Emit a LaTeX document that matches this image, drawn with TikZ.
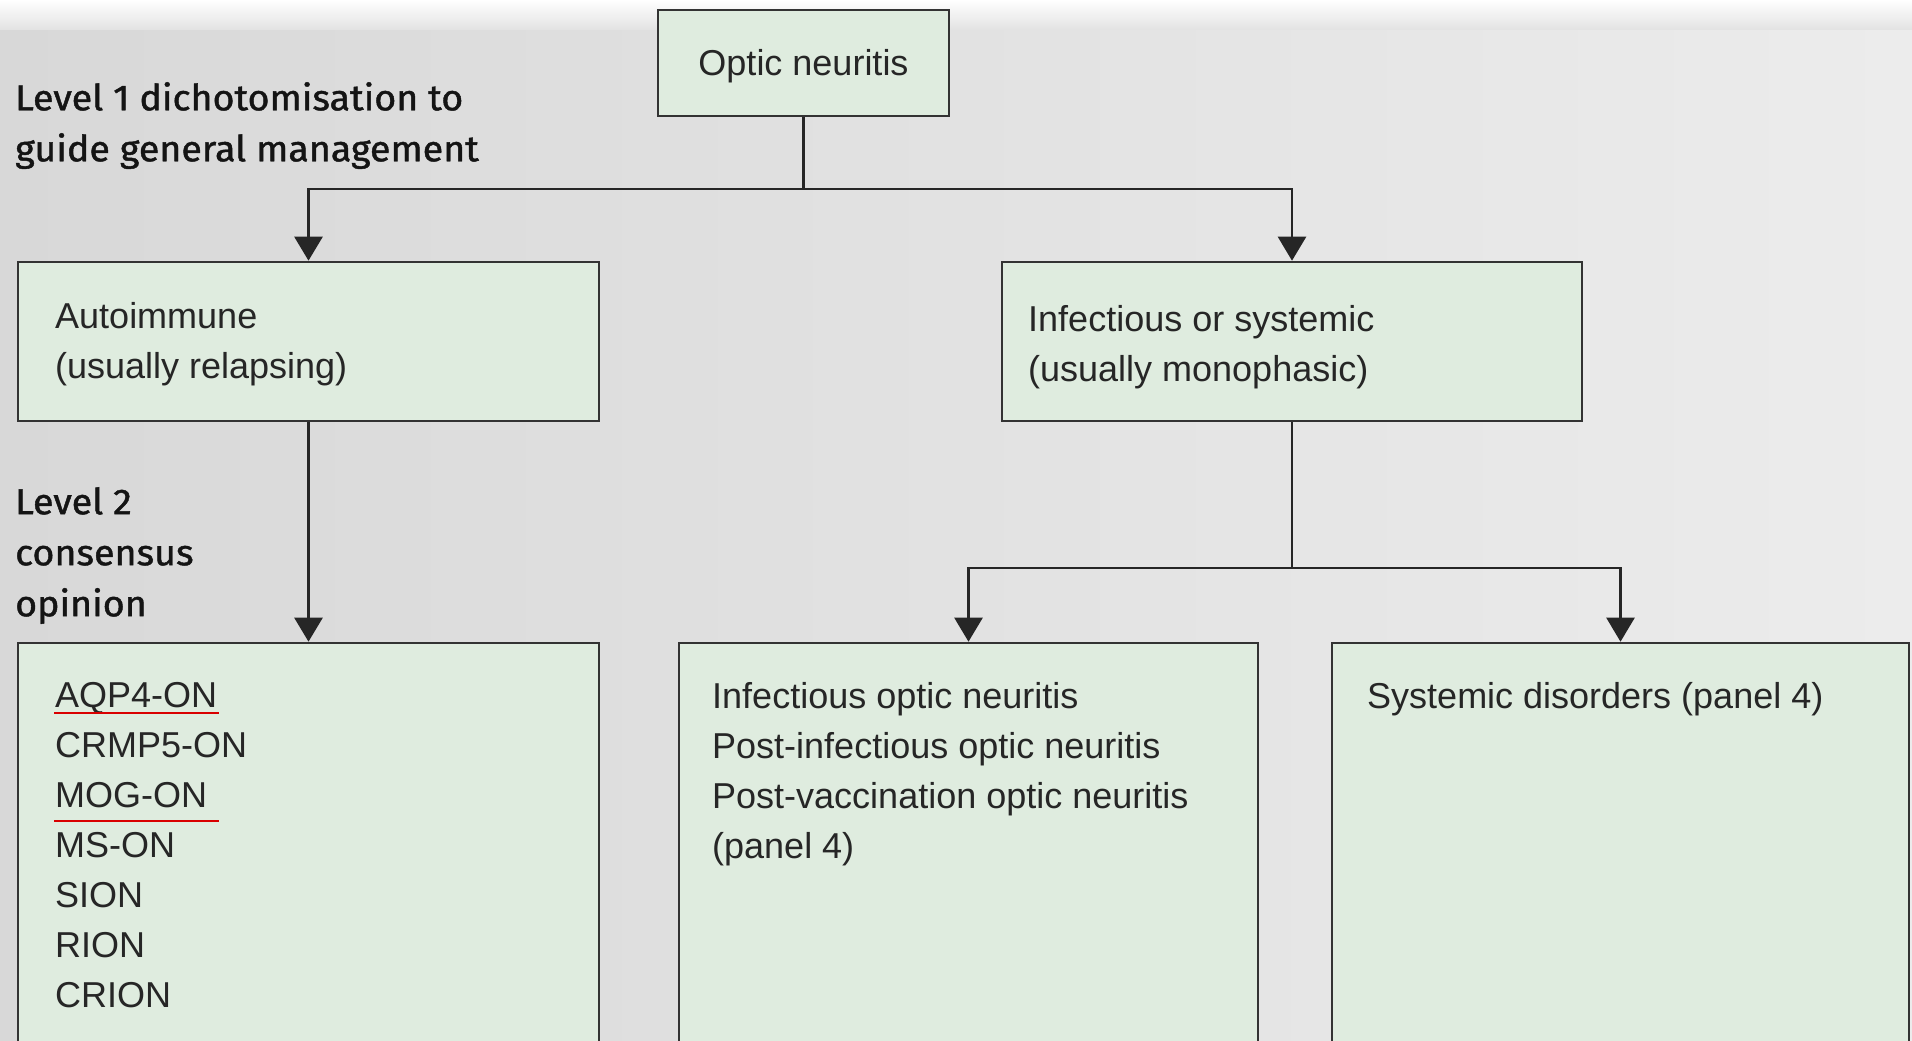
\documentclass[tikz,border=0pt]{standalone}
\usepackage{fontspec}
\setmainfont{Liberation Sans}
\newfontfamily\levelfont[FakeBold=1.2, FakeStretch=1.045]{Fira Sans}
\usetikzlibrary{arrows.meta}

\definecolor{boxgreen}{HTML}{DFECDF}
\definecolor{boxline}{HTML}{333333}
\definecolor{bgleft}{HTML}{D8D8D8}
\definecolor{bgright}{HTML}{ECECEC}

\begin{document}
\begin{tikzpicture}[x=1pt,y=-1pt]
		\tikzset{box/.style = {draw=boxline, fill=boxgreen, line width=2.6pt, inner sep=0pt}}
		\tikzset{txt/.style = {inner sep=0pt, align=left, text=black!85, font=\fontsize{36}{50}\selectfont}}
		\tikzset{lvl/.style = {inner sep=0pt, align=left, text=black!92, font=\levelfont\fontsize{36}{51}\selectfont}}
		\tikzset{link/.style = {draw=black!85, line width=2.6pt}}
		\tikzset{edge/.style = {link, -{Triangle[length=24pt,width=28pt]}}}
		
		% background
		\useasboundingbox (0,0) rectangle (1912,1041);
		\clip (0,0) rectangle (1912,1041);
		\shade[left color=bgleft, right color=bgright] (0,0) rectangle (1912,1041);
		\shade[top color=white, bottom color=bgleft!50!bgright] (0,0) rectangle (1912,30);
		
		% boxes
		\node[box, minimum width=291pt, minimum height=106pt, txt, text height=26pt, text depth=0pt] (on) at (803.5, 63) {Optic neuritis};
		\node[box, minimum width=581pt, minimum height=159pt] (auto) at (308.5, 341.5) {};
		\node[box, minimum width=580pt, minimum height=159pt] (inf) at (1292, 341.5) {};
		\node[box, minimum width=581pt, minimum height=417pt] (autolist) at (308.5, 851.5) {};
		\node[box, minimum width=579pt, minimum height=417pt] (infon) at (968.5, 851.5) {};
		\node[box, minimum width=577pt, minimum height=417pt] (sysd) at (1620.5, 851.5) {};
		
		% texts
		\node[lvl, anchor=north west] (lvl1) at (15, 82) {Level 1 dichotomisation to\\guide general management};
		\node[lvl, anchor=north west] (lvl2) at (15, 487) {Level 2\\consensus\\opinion};
		\node[txt, anchor=north west] (autoT) at (55, 302) {Autoimmune\\(usually relapsing)};
		\node[txt, anchor=north west] (infT) at (1028, 305) {Infectious or systemic\\(usually monophasic)};
		\node[txt, anchor=north west] (aqpT) at (55, 682) {AQP4-ON\\CRMP5-ON\\MOG-ON\\MS-ON\\SION\\RION\\CRION};
		\node[txt, anchor=north west] (infonT) at (712, 682) {Infectious optic neuritis\\Post-infectious optic neuritis\\Post-vaccination optic neuritis\\(panel 4)};
		\node[txt, anchor=north west] (sysT) at (1367, 682) {Systemic disorders (panel 4)};
		
		\coordinate (split1) at (0, 189);
		\coordinate (split2) at (0, 568);
		
		\draw[link] (on.south) -- (on.south |- split1);
		\draw[edge] (on.south |- split1) -| (auto.north);
		\draw[edge] (on.south |- split1) -| (inf.north);
		\draw[edge] (auto.south) -- (autolist.north);
		\draw[link] (inf.south) -- (inf.south |- split2);
		\draw[edge] (inf.south |- split2) -| (infon.north);
		\draw[edge] (inf.south |- split2) -| (sysd.north);
		
		\tikzset{link/.style = {draw=red!85!black, line width=1.5pt}}
		\draw[link] (54, 713) -- (219, 713);
		\draw[link] (54, 821) -- (219, 821);
\end{tikzpicture}
\end{document}
